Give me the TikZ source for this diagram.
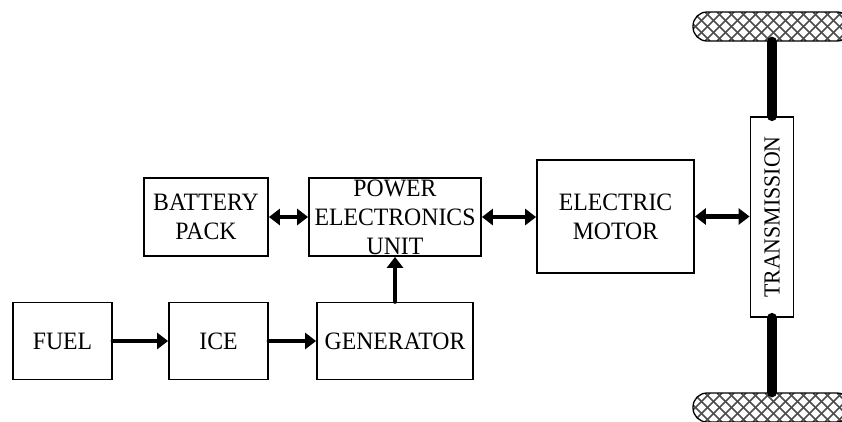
\documentclass[tikz,border=0pt]{standalone}
\usepackage{fontspec}
\setmainfont[FakeStretch=0.95]{Liberation Serif}
\usetikzlibrary{arrows.meta}
\begin{document}
\begin{tikzpicture}[x=1pt,y=-1pt,
  blk/.style={draw, line width=1.8pt, inner sep=0pt, align=center,
    font=\fontsize{25}{29}\selectfont},
  arr/.style={line width=4.5pt, line cap=round, -{Triangle[length=11pt,width=16pt]}},
  darr/.style={line width=4.5pt, {Triangle[length=11pt,width=16pt]}-{Triangle[length=11pt,width=16pt]}},
  shaft/.style={line width=10pt, line cap=round},
  wheel/.style={draw, line width=1.3pt, rounded corners=14pt, inner sep=0pt,
    minimum width=158pt, minimum height=29pt,
    path picture={
      \foreach \k in {-4,...,15}{
        \draw[line width=1.5pt, black!70]
          ([xshift=\k*12pt]path picture bounding box.south west) -- ++(29pt,29pt);
        \draw[line width=1.5pt, black!70]
          ([xshift=\k*12pt]path picture bounding box.north west) -- ++(29pt,-29pt);
      }}}
]
\useasboundingbox (0,0) rectangle (842,421);

\node[blk, minimum width=99pt, minimum height=77pt] (fuel) at (62.5,341) {FUEL};
\node[blk, minimum width=99pt, minimum height=77pt] (ice) at (218.5,341) {ICE};
\node[blk, minimum width=156pt, minimum height=77pt] (gen) at (395,341) {GENERATOR};
\node[blk, minimum width=124pt, minimum height=78pt] (bat) at (206,217) {BATTERY\\PACK};
\node[blk, minimum width=172pt, minimum height=78pt] (peu) at (395,217) {POWER\\ELECTRONICS\\UNIT};
\node[blk, minimum width=157pt, minimum height=113pt] (em) at (615.5,216.5) {ELECTRIC\\MOTOR};
\node[blk, minimum width=43pt, minimum height=200pt] (tr) at (772,217) {};
\node[rotate=90, inner sep=0pt, font=\fontsize{23}{26}\selectfont] (trtext) at (tr.center) {TRANSMISSION};

\node[wheel] (wtop) at (772,26.5) {};
\node[wheel] (wbot) at (772,407.5) {};

\draw[shaft] (wtop.south) -- (tr.north);
\draw[shaft] (tr.south) -- (wbot.north);

\draw[arr] (fuel.east) -- (ice.west);
\draw[arr] (ice.east) -- (gen.west);
\draw[arr] (gen.north) -- (peu.south);
\draw[darr] (bat.east) -- (peu.west);
\draw[darr] (peu.east) -- (peu.east -| em.west);
\draw[darr] (em.east) -- (em.east -| tr.west);
\end{tikzpicture}
\end{document}
